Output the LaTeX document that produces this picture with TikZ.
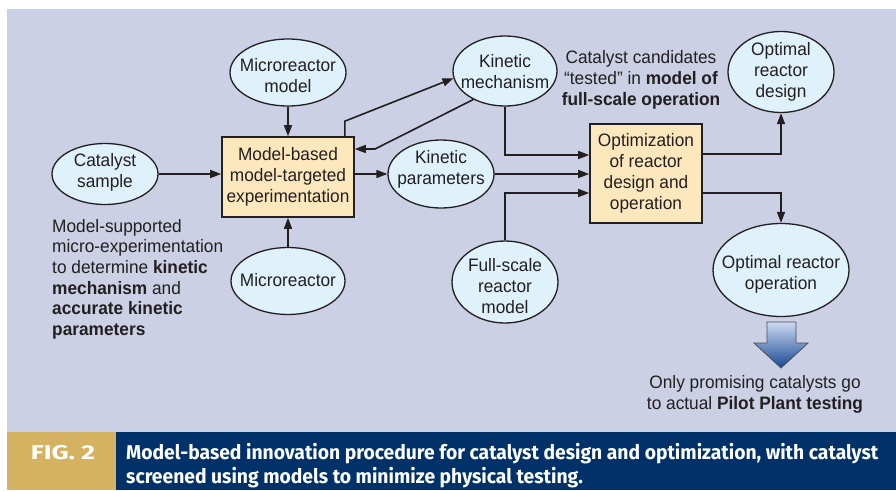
\documentclass[tikz,border=0pt]{standalone}
\usepackage{fontspec}
\setmainfont{Liberation Sans}[FakeStretch=0.96]
\newfontfamily\capfont{Fira Sans}[FakeStretch=0.965]
\newfontfamily\figfont{Fira Sans}[FakeStretch=1.33]
\usetikzlibrary{shapes.geometric,arrows.meta,calc}
\definecolor{bg}{RGB}{203,208,228}
\definecolor{ellfill}{RGB}{223,241,251}
\definecolor{boxfill}{RGB}{253,232,190}
\definecolor{navy}{RGB}{0,50,105}
\definecolor{gold}{RGB}{212,178,98}
\definecolor{ink}{RGB}{35,31,32}
\definecolor{arrtop}{RGB}{205,218,240}
\definecolor{arrbot}{RGB}{22,72,150}
\begin{document}
\begin{tikzpicture}[x=1pt,y=-1pt,
  ell/.style={ellipse, draw=ink, line width=1.3pt, fill=ellfill, inner sep=0pt},
  boxs/.style={rectangle, draw=ink, line width=1.6pt, fill=boxfill, inner sep=0pt, align=center, text=ink, font=\fontsize{18}{21}\selectfont},
  txt/.style={align=center, inner sep=0pt, text=ink, font=\fontsize{18}{21}\selectfont},
  conn/.style={line width=1.6pt, draw=ink, -{Triangle[length=11pt,width=8pt]}}]
\useasboundingbox (0,0) rectangle (896,490);
\fill[white] (0,0) rectangle (896,490);
\fill[bg] (7,9) rectangle (896,432);
\fill[gold] (7,432) rectangle (116,490);
\fill[navy] (116,432) rectangle (896,490);

% nodes
\node[ell, minimum width=106pt, minimum height=61pt] (cat) at (105,174) {};
\node[txt] (catT) at (105,172.5) {Catalyst\\sample};
\node[ell, minimum width=116pt, minimum height=67pt] (mrm) at (288,72.5) {};
\node[txt] (mrmT) at (288,76) {Microreactor\\model};
\node[ell, minimum width=114pt, minimum height=67pt] (mr) at (288,281) {};
\node[txt] (mrT) at (288,280) {Microreactor};
\node[boxs, minimum width=132pt, minimum height=80pt] (mb) at (288,177) {Model-based\\model-targeted\\experimentation};
\node[ell, minimum width=104pt, minimum height=70pt] (km) at (505,71) {};
\node[txt] (kmT) at (505,72) {Kinetic\\mechanism};
\node[ell, minimum width=106pt, minimum height=68pt] (kp) at (441,174) {};
\node[txt] (kpT) at (441,169) {Kinetic\\parameters};
\node[ell, minimum width=106pt, minimum height=82pt] (fs) at (505,282) {};
\node[txt] (fsT) at (505,286) {Full-scale\\reactor\\model};
\node[boxs, minimum width=112pt, minimum height=99pt] (ob) at (646,173.5) {Optimization\\of reactor\\design and\\operation};
\node[ell, minimum width=106pt, minimum height=81pt] (ord) at (781,72) {};
\node[txt] (ordT) at (781,72) {Optimal\\reactor\\design};
\node[ell, minimum width=136pt, minimum height=93pt] (oro) at (781,270) {};
\node[txt] (oroT) at (781,274) {Optimal reactor\\operation};

\node[txt] (cand) at (641,80) {Catalyst candidates\\“tested” in \textbf{model of}\\\textbf{full-scale operation}};
\node[txt, align=left, anchor=north west, font=\fontsize{18}{20.6}\selectfont] (left) at (52,219) {Model-supported\\micro-experimentation\\to determine \textbf{kinetic}\\\textbf{mechanism} and\\\textbf{accurate kinetic}\\\textbf{parameters}};
\node[txt] (only) at (755,394) {Only promising catalysts go\\to actual \textbf{Pilot Plant testing}};

% big arrow
\shade[top color=arrtop, bottom color=arrbot, draw=ink!80, line width=0.8pt]
  (767,322) -- (796,322) -- (796,343) -- (808,343) -- (781,368) -- (754,343) -- (767,343) -- cycle;

% connectors
\draw[conn] (mrm) -- (mb);
\draw[conn] (mr) -- (mb);
\draw[conn] (cat.east) -- (cat.east -| mb.west);
\draw[conn] (mb.east |- kp.west) -- (kp.west);
\coordinate (mbtop) at ($(mb.north east)+(-10,0)$);
\coordinate (b1) at ($(mbtop)+(0,-15)$);
\draw[conn] (mbtop) -- (b1) -- (km.188);
\coordinate (b2) at (375,149);
\draw[conn] (km.222) -- (b2) -- (b2 -| mb.east);
\coordinate (in1) at ($(ob.west)+(0,-18.5)$);
\coordinate (in3) at ($(ob.west)+(0,19.5)$);
\draw[conn] (km.south) |- (in1);
\draw[conn] (kp.east) -- (kp.east -| ob.west);
\draw[conn] (fs.north) |- (in3);
\coordinate (out1) at ($(ob.east)+(0,-19.5)$);
\coordinate (out2) at ($(ob.east)+(0,19.5)$);
\draw[conn] (out1) -| (ord.south);
\draw[conn] (out2) -| (oro.north);

% caption
\node[anchor=base, inner sep=0pt, text=white, font=\figfont\bfseries\fontsize{20}{24}\selectfont] (fig) at (63,459) {FIG. 2};
\node[anchor=base west, inner sep=0pt, text=white, font=\capfont\bfseries\fontsize{20}{24}\selectfont] (cap1) at (126,459) {Model-based innovation procedure for catalyst design and optimization, with catalyst};
\node[anchor=base west, inner sep=0pt, text=white, font=\capfont\bfseries\fontsize{20}{24}\selectfont] (cap2) at (126,483) {screened using models to minimize physical testing.};
\end{tikzpicture}
\end{document}
